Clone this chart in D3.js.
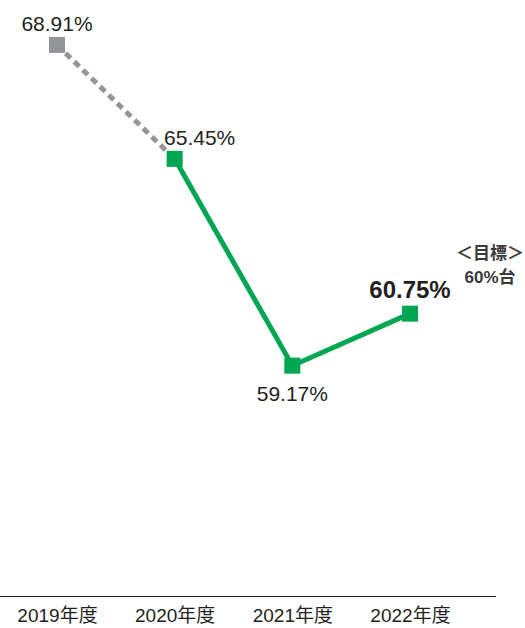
<!DOCTYPE html>
<html>
<head>
<meta charset="utf-8">
<script src="https://cdn.jsdelivr.net/npm/d3@7"></script>
<style>
    body { margin: 0; background: #fff; }
    text { font-family: "Liberation Sans", Arial, "Noto Sans CJK JP", sans-serif; fill: #231f20; }
</style>
</head>
<body>
<div id="chart"></div>
<script>
const WIDTH = 525;
const HEIGHT = 628;

const YEARS = ['2019年度', '2020年度', '2021年度', '2022年度'];
const VALUES = [68.91, 65.45, 59.17, 60.75];
const LABELS = ['68.91%', '65.45%', '59.17%', '60.75%'];
const TARGET = ['＜目標＞', '60%台'];

const GREEN = '#00a651';
const GRAY = '#939598';
const MARKER = 16;

const svg = d3.select('#chart')
    .append('svg')
    .attr('width', WIDTH)
    .attr('height', HEIGHT);

const x = d3.scalePoint().domain(YEARS).range([57, 410]);
const y = d3.scaleLinear().domain([55, 70]).range([503, 9]);

const points = YEARS.map((yr, i) => ({ year: yr, value: VALUES[i], label: LABELS[i] }));

const line = d3.line()
    .x(d => x(d.year))
    .y(d => y(d.value));

// dashed segment for 2019 -> 2020
svg.append('path')
    .datum(points.slice(0, 2))
    .attr('d', line)
    .style('fill', 'none')
    .style('stroke', GRAY)
    .style('stroke-width', '5px')
    .style('stroke-dasharray', '7 5');

// solid green from 2020 on
svg.append('path')
    .datum(points.slice(1))
    .attr('d', line)
    .style('fill', 'none')
    .style('stroke', GREEN)
    .style('stroke-width', '5px');

svg.selectAll('rect.marker')
    .data(points)
    .enter()
    .append('rect')
    .attr('class', 'marker')
    .attr('x', d => x(d.year) - MARKER / 2)
    .attr('y', d => y(d.value) - MARKER / 2)
    .attr('width', MARKER)
    .attr('height', MARKER)
    .style('fill', (d, i) => i === 0 ? GRAY : GREEN);

// value labels
const labelPos = [
    { dx: 0, dy: -14, size: 21, weight: 'normal' },
    { dx: 25, dy: -14, size: 21, weight: 'normal' },
    { dx: 0, dy: 35, size: 21, weight: 'normal' },
    { dx: 0, dy: -16, size: 24, weight: 'bold' },
];
svg.selectAll('text.value')
    .data(points)
    .enter()
    .append('text')
    .attr('class', 'value')
    .attr('x', (d, i) => x(d.year) + labelPos[i].dx)
    .attr('y', (d, i) => y(d.value) + labelPos[i].dy)
    .style('text-anchor', 'middle')
    .style('font-size', (d, i) => labelPos[i].size + 'px')
    .style('font-weight', (d, i) => labelPos[i].weight)
    .text(d => d.label);

// target note
svg.selectAll('text.target')
    .data(TARGET)
    .enter()
    .append('text')
    .attr('class', 'target')
    .attr('x', 490)
    .attr('y', (d, i) => 259 + i * 24)
    .style('text-anchor', 'middle')
    .style('font-size', '17px')
    .style('font-weight', 'bold')
    .style('fill', '#3a3a3a')
    .text(d => d);

// x axis
svg.append('line')
    .attr('x1', 0)
    .attr('x2', 496)
    .attr('y1', 596.5)
    .attr('y2', 596.5)
    .style('stroke', '#231f20')
    .style('stroke-width', 1.2);

const xAxis = svg.append('g')
    .attr('transform', 'translate(0,596)')
    .call(d3.axisBottom(x).tickSize(0).tickPadding(13));
xAxis.select('.domain').remove();
xAxis.selectAll('text')
    .style('font-size', '19px')
    .style('font-family', '"Liberation Sans", Arial, "Noto Sans CJK JP", sans-serif')
    .style('fill', '#231f20');
</script>
</body>
</html>
